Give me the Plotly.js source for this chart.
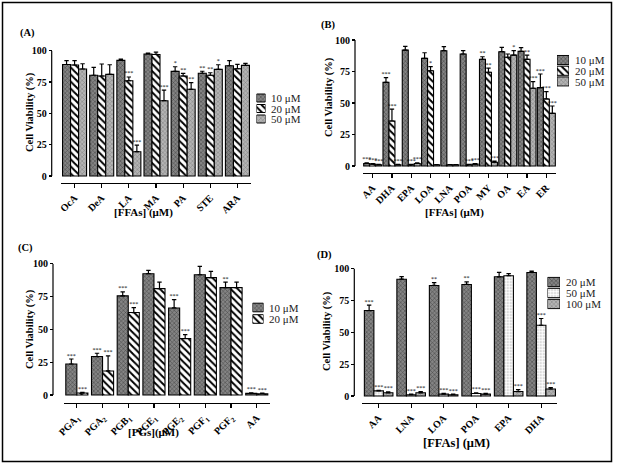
<!DOCTYPE html>
<html>
<head>
<meta charset="utf-8">
<script src="https://cdn.plot.ly/plotly-3.0.1.min.js"></script>
<style>html,body{margin:0;padding:0;background:#fff}#chart{width:618px;height:469px}</style>
</head>
<body>
<div id="chart"></div>
<script>
// ---------------- DATA ----------------
const catsA = ['OcA','DeA','LA','MA','PA','STE','ARA'];
const a10  = [89, 80.4, 92.3, 97.4, 83.5, 82, 88];
const a10e = [3, 6.3, 1, 0.6, 3.7, 1.6, 4];
const a20  = [88.6, 79.8, 76, 97, 79.8, 80.4, 85.6];
const a20e = [3.5, 9.6, 3, 1.8, 2.1, 2, 3.5];
const a50  = [85.4, 81.1, 19.4, 60.1, 69.2, 85.1, 88.3];
const a50e = [4.2, 7.7, 5.2, 8.5, 5.3, 3.7, 1.6];
const a10s = ['', '', '', '', '*', '**', ''];
const a20s = ['', '', '***', '', '**', '**', ''];
const a50s = ['', '', '***', '***', '**', '*', ''];

const catsB = ['AA','DHA','EPA','LOA','LNA','POA','MY','OA','EA','ER'];
const b10  = [2, 66.4, 92, 85.4, 91.5, 88.9, 84.7, 90.7, 91, 62.2];
const b10e = [0.5, 3.7, 3, 4.5, 3.2, 2.6, 2, 3.5, 3, 10.8];
const b20  = [1.5, 35.7, 1, 75.6, 1, 1, 74.4, 86.3, 84.7, 53.2];
const b20e = [0.5, 9.5, 0.3, 3.2, 0.2, 0.3, 3.2, 2.6, 3.3, 5.8];
const b50  = [1, 1, 2, 1, 1, 1.5, 3, 88, 61.7, 41.8];
const b50e = [0.4, 0.3, 0.5, 0.2, 0.2, 0.4, 0.8, 3.5, 5.3, 5.8];
const b10s = ['***', '***', '', '', '', '', '**', '', '', '***'];
const b20s = ['***', '***', '***', '*', '', '***', '**', '', '**', '***'];
const b50s = ['***', '***', '***', '', '', '***', '***', '*', '***', '***'];

const catsC = ['PGA<sub>1</sub>','PGA<sub>2</sub>','PGB<sub>1</sub>','PGE<sub>1</sub>','PGE<sub>2</sub>','PGF<sub>1</sub>','PGF<sub>2</sub>','AA'];
const c10  = [23.6, 29.3, 75.5, 92.4, 66.3, 91.6, 81.8, 1.2];
const c10e = [3.8, 2.5, 3, 2.5, 6.3, 6.3, 4.2, 0.5];
const c20  = [1.5, 18.3, 62.8, 81, 43, 89.4, 81.8, 1];
const c20e = [0.5, 11.5, 3.8, 5, 3, 4.8, 4.2, 0.5];
const c10s = ['***', '***', '***', '', '***', '', '**', '***'];
const c20s = ['***', '***', '***', '', '***', '', '', '***'];

const catsD = ['AA','LNA','LOA','POA','EPA','DHA'];
const d20   = [67, 91.6, 86.7, 87.5, 93.5, 96.9];
const d20e  = [4.2, 2, 2.3, 2, 3.4, 1];
const d50   = [4, 1, 1.5, 2, 94.3, 55.5];
const d50e  = [0.5, 0.5, 0.5, 0.5, 1.7, 5.3];
const d100  = [2.5, 2.5, 1, 1.5, 3.5, 5.5];
const d100e = [0.8, 1, 0.5, 0.5, 1.5, 1];
const d20s  = ['***', '', '**', '**', '', ''];
const d50s  = ['***', '***', '***', '***', '', '***'];
const d100s = ['***', '***', '***', '***', '***', '***'];

const ytickVals = [0, 25, 50, 75, 100];
const yTitle = 'Cell Viability (%)';

// ---------------- STYLES / LAYOUT ----------------
const W = 618, H = 469;
const px = v => v / W;
const py = v => 1 - v / H;
const SERIF = 'Liberation Serif, Times New Roman, serif';

const fills = {
  dark:   {color:'#6e6e6e', pattern:{shape:'x', fgcolor:'#404040', bgcolor:'#848484', size:3, solidity:0.3}},
  stripe: {color:'#ffffff', pattern:{shape:'\\', fgcolor:'#000000', bgcolor:'#ffffff', size:5, solidity:0.4}},
  light:  {color:'#a8a8a8', pattern:{shape:'x', fgcolor:'#7c7c7c', bgcolor:'#b4b4b4', size:3, solidity:0.3}},
  dots:   {color:'#ffffff', pattern:{shape:'.', fgcolor:'#b0b0b0', bgcolor:'#ffffff', size:3, solidity:0.25}}
};

const panels = [
  {label:'(A)', cats:catsA, w:0.295,
   series:[{name:'10 μM', v:a10, e:a10e, s:a10s, f:'dark'},
           {name:'20 μM', v:a20, e:a20e, s:a20s, f:'stripe'},
           {name:'50 μM', v:a50, e:a50e, s:a50s, f:'light'}],
   xd:[61, 251], ytop:50.7, yzero:176, ybot:183, yx:51.7,
   leg:{x0:256.5, x1:265.5, rows:[98, 108.5, 119], h:0.76, tx:269},
   lab:[27, 33], xt:{text:'[FFAs] (μM)', x:143.5, y:212.5, size:11}, yt:[30, 112]},
  {label:'(B)', cats:catsB, w:0.31,
   series:[{name:'10 μM', v:b10, e:b10e, s:b10s, f:'dark'},
           {name:'20 μM', v:b20, e:b20e, s:b20s, f:'stripe'},
           {name:'50 μM', v:b50, e:b50e, s:b50s, f:'light'}],
   xd:[363, 556], ytop:40, yzero:166, ybot:173, yx:355,
   leg:{x0:557, x1:569, rows:[60, 70.7, 81.5], h:0.85, tx:573},
   lab:[328.5, 25], xt:{text:'[FFAs] (μM)', x:454.5, y:212.5, size:11}, yt:[329, 97]},
  {label:'(C)', cats:catsC, w:0.43,
   series:[{name:'10 μM', v:c10, e:c10e, s:c10s, f:'dark'},
           {name:'20 μM', v:c20, e:c20e, s:c20s, f:'stripe'}],
   xd:[64, 269.6], ytop:263.7, yzero:395, ybot:403, yx:53,
   leg:{x0:252.5, x1:263.5, rows:[307.5, 319], h:0.75, tx:266.5},
   lab:[25, 248.3], xt:{text:'[PGs](μM)', x:153, y:432, size:11}, yt:[30, 329]},
  {label:'(D)', cats:catsD, w:0.293,
   series:[{name:'20 μM', v:d20, e:d20e, s:d20s, f:'dark'},
           {name:'50 μM', v:d50, e:d50e, s:d50s, f:'dots'},
           {name:'100 μM', v:d100, e:d100e, s:d100s, f:'light'}],
   xd:[362.4, 557.4], ytop:268.5, yzero:396, ybot:403, yx:354.3,
   leg:{x0:547.5, x1:560, rows:[282, 293, 304], h:0.85, tx:563.5},
   lab:[324, 255], xt:{text:'[FFAs] (μM)', x:456, y:443.3, size:12.5}, yt:[327, 331]}
];

const data = [];
const layout = {
  width: W, height: H,
  margin: {l:0, r:0, t:0, b:0},
  paper_bgcolor: '#fff', plot_bgcolor: 'rgba(0,0,0,0)',
  showlegend: false, barmode: 'overlay',
  font: {family: SERIF, color: '#000'},
  shapes: [], annotations: []
};

panels.forEach((p, pi) => {
  const n = pi + 1, ln = pi + 5;
  const xa = 'x' + (n === 1 ? '' : n), ya = 'y' + (n === 1 ? '' : n);
  const lxa = 'x' + ln, lya = 'y' + ln;
  const K = p.series.length;
  const idx = p.cats.map((_, i) => i);
  const r = 100 * (p.ybot - p.yzero) / (p.yzero - p.ytop);

  p.series.forEach((s, k) => {
    const xs = idx.map(i => i + (k - (K - 1) / 2) * p.w);
    data.push({
      type:'bar', x:xs, y:s.v, width:p.w, xaxis:xa, yaxis:ya, name:s.name,
      marker:{color:fills[s.f].color, pattern:fills[s.f].pattern, line:{color:'#000', width:1.1}},
      error_y:{type:'data', symmetric:false, array:s.e, arrayminus:s.e.map(() => 0),
               color:'#000', thickness:1.2, width:2.2},
      hoverinfo:'skip'
    });
    data.push({
      type:'scatter', mode:'text', x:xs, y:s.v.map((v, i) => v + s.e[i]),
      text:s.s, textposition:'top center', xaxis:xa, yaxis:ya, cliponaxis:false,
      textfont:{family:SERIF, size:6, color:'#000'}, hoverinfo:'skip'
    });
    // legend swatch drawn as a tiny bar in its own small subplot
    data.push({
      type:'bar', orientation:'h', x:[1], y:[k], width:p.leg.h, base:0,
      xaxis:lxa, yaxis:lya, hoverinfo:'skip',
      marker:{color:fills[s.f].color, pattern:fills[s.f].pattern, line:{color:'#000', width:1}}
    });
    layout.annotations.push({
      xref:'paper', yref:'paper', x:px(p.leg.tx), y:py(p.leg.rows[k]),
      xanchor:'left', yanchor:'middle', showarrow:false, text:s.name,
      font:{family:SERIF, size:11, color:'#222'}
    });
  });

  const xkey = 'xaxis' + (n === 1 ? '' : n), ykey = 'yaxis' + (n === 1 ? '' : n);
  layout[xkey] = {
    domain:[px(p.xd[0]), px(p.xd[1])], anchor:ya, range:[-0.5, p.cats.length - 0.5],
    tickvals:idx, ticktext:p.cats, tickangle:-45,
    tickfont:{family:SERIF, size:10, weight:'bold', color:'#000'},
    showline:true, linecolor:'#000', linewidth:1.2, ticks:'outside', ticklen:4,
    tickwidth:1.2, tickcolor:'#000', showgrid:false, zeroline:false, fixedrange:true
  };
  layout[ykey] = {
    domain:[py(p.ybot), py(p.ytop)], anchor:'free', position:px(p.yx),
    range:[-r, 100], tickvals:ytickVals, ticks:'outside', ticklen:3, tickwidth:1.2,
    tickcolor:'#000', tickfont:{family:SERIF, size:10, weight:'bold', color:'#000'},
    showline:false, showgrid:false, zeroline:false, fixedrange:true
  };
  layout.shapes.push({type:'line', xref:'paper', yref:ya, x0:px(p.yx), x1:px(p.yx),
                      y0:0, y1:100, line:{color:'#000', width:1.2}});

  const rows = p.leg.rows, half = (rows.length > 1 ? (rows[1] - rows[0]) : 10) / 2;
  layout['xaxis' + ln] = {domain:[px(p.leg.x0), px(p.leg.x1)], range:[0, 1], anchor:lya,
                          visible:false, fixedrange:true};
  layout['yaxis' + ln] = {domain:[py(rows[rows.length - 1] + half), py(rows[0] - half)],
                          range:[K - 0.5, -0.5], anchor:lxa, visible:false, fixedrange:true};

  layout.annotations.push({xref:'paper', yref:'paper', x:px(p.lab[0]), y:py(p.lab[1]),
    xanchor:'center', yanchor:'middle', showarrow:false, text:'<b>' + p.label + '</b>',
    font:{family:SERIF, size:10.5, color:'#000'}});
  layout.annotations.push({xref:'paper', yref:'paper', x:px(p.xt.x), y:py(p.xt.y),
    xanchor:'center', yanchor:'middle', showarrow:false, text:'<b>' + p.xt.text + '</b>',
    font:{family:SERIF, size:p.xt.size, color:'#000'}});
  layout.annotations.push({xref:'paper', yref:'paper', x:px(p.yt[0]), y:py(p.yt[1]),
    xanchor:'center', yanchor:'middle', showarrow:false, textangle:-90,
    text:'<b>' + yTitle + '</b>', font:{family:SERIF, size:10.5, color:'#000'}});
});

layout.shapes.push({type:'rect', xref:'paper', yref:'paper', x0:px(2.5), x1:px(611.5),
                    y0:py(461.5), y1:py(2.5), line:{color:'#000', width:1.5}});

Plotly.newPlot('chart', data, layout, {staticPlot:true, displayModeBar:false});
</script>
</body>
</html>
